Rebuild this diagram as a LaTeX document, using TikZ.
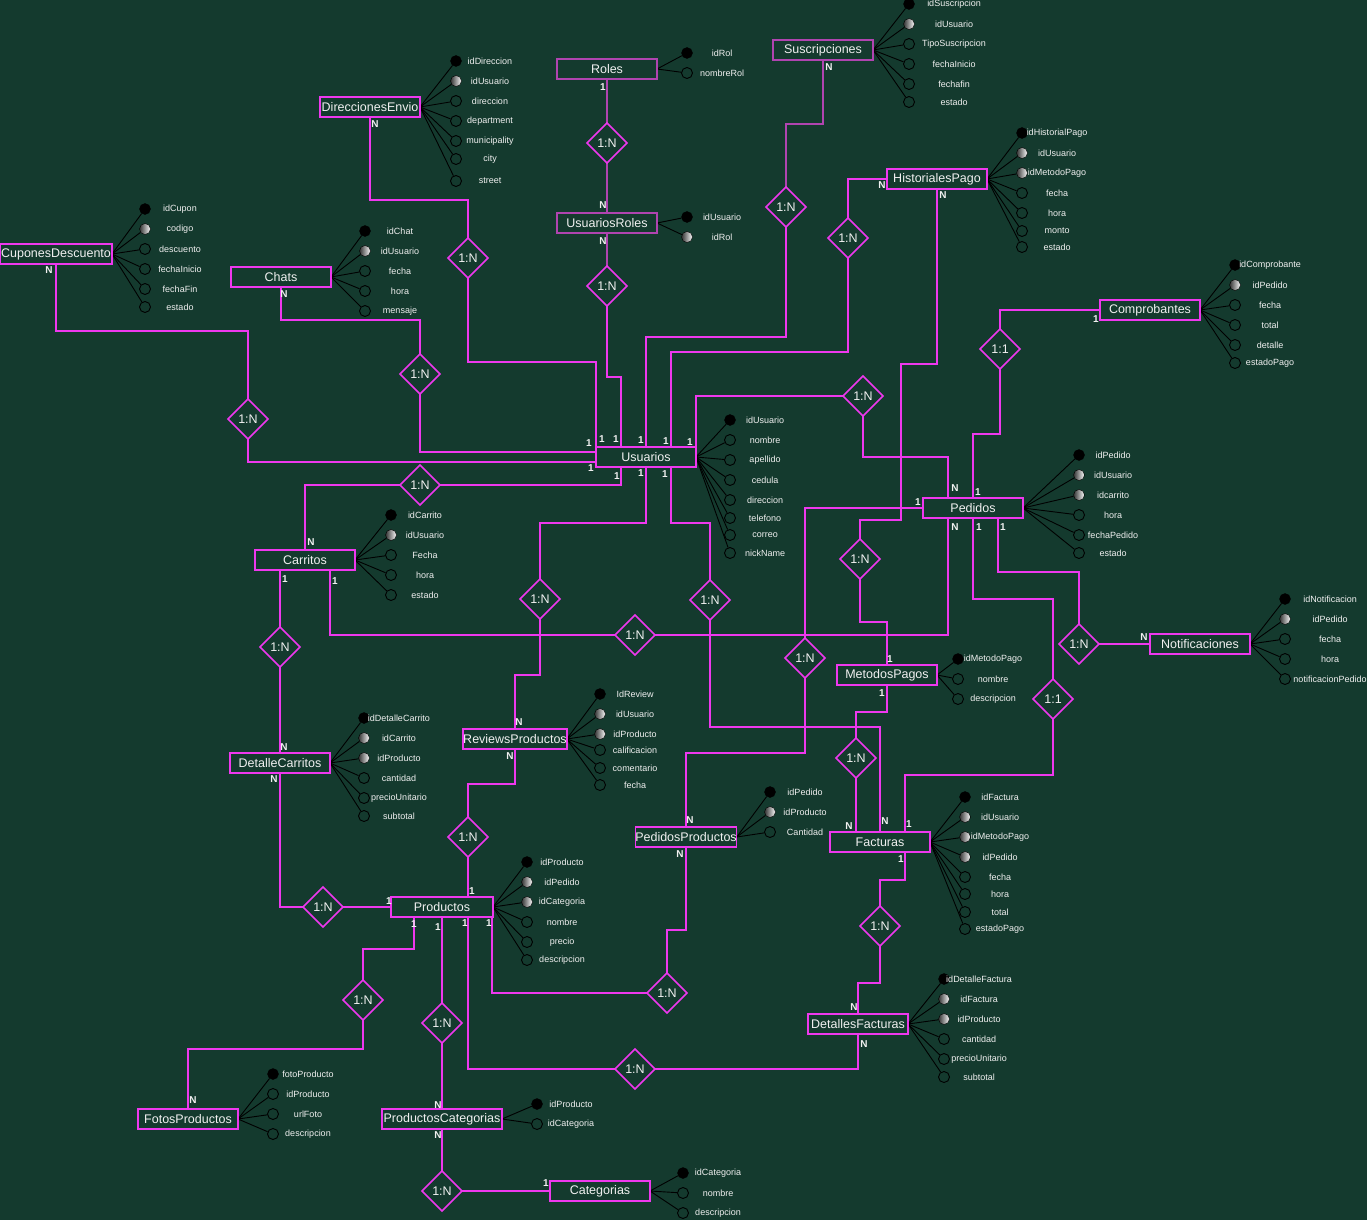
\documentclass[tikz,border=0pt]{standalone}
\usepackage{fontspec}
\setmainfont{Liberation Sans}
\usetikzlibrary{shapes.geometric}
\definecolor{bgc}{HTML}{143A2E}
\definecolor{magl}{HTML}{EE38EE}
\definecolor{magd}{HTML}{B044B0}
\definecolor{txt}{HTML}{F0F0F0}
\pgfdeclarelayer{back}
\pgfdeclarelayer{lines}
\pgfsetlayers{back,lines,main}
\tikzset{
 entity/.style={draw=magl, line width=1.5pt, fill=bgc, text=txt, minimum width=100pt, minimum height=20pt, inner sep=0pt, outer sep=0pt, font=\fontsize{12.5}{14}\selectfont},
 entityd/.style={entity, draw=magd},
 relbox/.style={diamond, draw=magl, line width=1.5pt, fill=bgc, text=txt, minimum width=40pt, minimum height=40pt, inner sep=0pt, outer sep=0pt, font=\fontsize{12.5}{14}\selectfont},
 conn/.style={draw=magl, line width=1.5pt},
 connd/.style={draw=magd, line width=1.7pt},
 attrline/.style={draw=black, line width=0.9pt},
 attrk/.style={circle, draw=black, fill=black, minimum size=11pt, inner sep=0pt},
 attrf/.style={circle, draw=black, left color=black!80, right color=white, minimum size=11pt, inner sep=0pt},
 attro/.style={circle, draw=black, line width=0.9pt, fill=bgc, minimum size=11pt, inner sep=0pt},
 attrtext/.style={text=txt, font=\fontsize{9}{10}\selectfont, inner sep=0pt},
 card/.style={text=txt, font=\bfseries\fontsize{10}{11}\selectfont, inner sep=0pt},
}
\newcommand\attrset[4]{%
 \foreach \aposy/\atyp/\alab [count=\aidx] in {#4}{%
  \edef\attrcmd{\noexpand\node[attr\atyp] (#1-a\aidx) at (#2,\aposy) {};}%
  \attrcmd
  \node[attrtext] (#1-t\aidx) at (#3,\aposy) {\alab};
  \begin{pgfonlayer}{lines}\draw[attrline] (#1.east) -- (#1-a\aidx);\end{pgfonlayer}
 }}
\begin{document}
\begin{tikzpicture}[x=1pt,y=-1pt]
\useasboundingbox (0,0) rectangle (1367,1220);
\begin{pgfonlayer}{back}\fill[bgc] (0,0) rectangle (1367,1220);\end{pgfonlayer}

% entities
\node[entity, minimum width=112pt] (CuponesDescuento) at (56,254) {CuponesDescuento};
\node[entity] (Chats) at (281,277) {Chats};
\node[entity] (DireccionesEnvio) at (370,107) {DireccionesEnvio};
\node[entityd] (Roles) at (607,69) {Roles};
\node[entityd] (UsuariosRoles) at (607,223) {UsuariosRoles};
\node[entityd] (Suscripciones) at (823,50) {Suscripciones};
\node[entity] (HistorialesPago) at (937,179) {HistorialesPago};
\node[entity] (Comprobantes) at (1150,310) {Comprobantes};
\node[entity] (Usuarios) at (646,457) {Usuarios};
\node[entity] (Pedidos) at (973,508) {Pedidos};
\node[entity] (Carritos) at (305,560) {Carritos};
\node[entity] (Notificaciones) at (1200,644) {Notificaciones};
\node[entity] (MetodosPagos) at (887,675) {MetodosPagos};
\node[entity] (ReviewsProductos) at (515,739) {ReviewsProductos};
\node[entity] (DetalleCarritos) at (280,763) {DetalleCarritos};
\node[entity] (PedidosProductos) at (686,837) {PedidosProductos};
\node[entity] (Facturas) at (880,842) {Facturas};
\node[entity, minimum width=102pt] (Productos) at (442,907) {Productos};
\node[entity] (DetallesFacturas) at (858,1024) {DetallesFacturas};
\node[entity] (FotosProductos) at (188,1119) {FotosProductos};
\node[entity, minimum width=120pt] (ProductosCategorias) at (442,1119) {ProductosCategorias};
\node[entity] (Categorias) at (600,1191) {Categorias};

% relationships
\node[relbox] (d1) at (607,143) {1:N};
\node[relbox] (d2) at (607,286) {1:N};
\node[relbox] (d3) at (468,258) {1:N};
\node[relbox] (d4) at (420,374) {1:N};
\node[relbox] (d5) at (248,419) {1:N};
\node[relbox] (d6) at (786,207) {1:N};
\node[relbox] (d7) at (848,238) {1:N};
\node[relbox] (d8) at (1000,349) {1:1};
\node[relbox] (d9) at (863,396) {1:N};
\node[relbox] (d10) at (420,485) {1:N};
\node[relbox] (d11) at (540,599) {1:N};
\node[relbox] (d12) at (710,600) {1:N};
\node[relbox] (d13) at (635,635) {1:N};
\node[relbox] (d14) at (860,559) {1:N};
\node[relbox] (d15) at (280,647) {1:N};
\node[relbox] (d16) at (805,658) {1:N};
\node[relbox] (d17) at (1079,644) {1:N};
\node[relbox] (d18) at (1053,699) {1:1};
\node[relbox] (d19) at (856,758) {1:N};
\node[relbox] (d20) at (468,837) {1:N};
\node[relbox] (d21) at (323,907) {1:N};
\node[relbox] (d22) at (880,926) {1:N};
\node[relbox] (d23) at (667,993) {1:N};
\node[relbox] (d24) at (363,1000) {1:N};
\node[relbox] (d25) at (442,1023) {1:N};
\node[relbox] (d26) at (635,1069) {1:N};
\node[relbox] (d27) at (442,1191) {1:N};

% attributes
\attrset{CuponesDescuento}{145}{180}{209/k/idCupon,229/f/codigo,249/o/descuento,269/o/fechaInicio,289/o/fechaFin,307/o/estado}
\attrset{Chats}{365}{400}{231/k/idChat,251/f/idUsuario,271/o/fecha,291/o/hora,311/o/mensaje}
\attrset{DireccionesEnvio}{456}{490}{61/k/idDireccion,81/f/idUsuario,101/o/direccion,121/o/department,141/o/municipality,159/o/city,181/o/street}
\attrset{Roles}{687}{722}{53/k/idRol,73/o/nombreRol}
\attrset{UsuariosRoles}{687}{722}{217/k/idUsuario,237/f/idRol}
\attrset{Suscripciones}{909}{954}{4/k/idSuscripcion,24/f/idUsuario,44/o/TipoSuscripcion,64/o/fechaInicio,84/o/fechafin,102/o/estado}
\attrset{HistorialesPago}{1022}{1057}{133/k/idHistorialPago,153/f/idUsuario,173/f/idMetodoPago,193/o/fecha,213/o/hora,231/o/monto,247/o/estado}
\attrset{Comprobantes}{1235}{1270}{265/k/idComprobante,285/f/idPedido,305/o/fecha,325/o/total,345/o/detalle,363/o/estadoPago}
\attrset{Usuarios}{730}{765}{420/k/idUsuario,440/o/nombre,460/o/apellido,480/o/cedula,500/o/direccion,518/o/telefono,535/o/correo,553/o/nickName}
\attrset{Pedidos}{1079}{1113}{455/k/idPedido,475/f/idUsuario,495/f/idcarrito,515/o/hora,535/o/fechaPedido,553/o/estado}
\attrset{Carritos}{391}{425}{515/k/idCarrito,535/f/idUsuario,555/o/Fecha,575/o/hora,595/o/estado}
\attrset{Notificaciones}{1285}{1330}{599/k/idNotificacion,619/f/idPedido,639/o/fecha,659/o/hora,679/o/notificacionPedido}
\attrset{MetodosPagos}{958}{993}{659/k/idMetodoPago,679/o/nombre,699/o/descripcion}
\attrset{ReviewsProductos}{600}{635}{694/k/IdReview,714/f/idUsuario,734/f/idProducto,750/o/calificacion,768/o/comentario,785/o/fecha}
\attrset{DetalleCarritos}{364}{399}{718/k/idDetalleCarrito,738/f/idCarrito,758/f/idProducto,778/o/cantidad,798/o/precioUnitario,816/o/subtotal}
\attrset{PedidosProductos}{770}{805}{792/k/idPedido,812/f/idProducto,832/o/Cantidad}
\attrset{Facturas}{965}{1000}{797/k/idFactura,817/f/idUsuario,837/f/idMetodoPago,857/f/idPedido,877/o/fecha,894/o/hora,912/o/total,929/o/estadoPago}
\attrset{Productos}{527}{562}{862/k/idProducto,882/f/idPedido,902/f/idCategoria,922/o/nombre,942/o/precio,960/o/descripcion}
\attrset{DetallesFacturas}{944}{979}{979/k/idDetalleFactura,999/f/idFactura,1019/f/idProducto,1039/o/cantidad,1059/o/precioUnitario,1077/o/subtotal}
\attrset{FotosProductos}{273}{308}{1074/k/fotoProducto,1094/o/idProducto,1114/o/urlFoto,1134/o/descripcion}
\attrset{ProductosCategorias}{537}{571}{1104/k/idProducto,1124/o/idCategoria}
\attrset{Categorias}{683}{718}{1173/k/idCategoria,1193/o/nombre,1213/o/descripcion}

% connectors
\begin{pgfonlayer}{lines}
\draw[connd] (Roles.south) -- (d1.north);
\draw[connd] (d1.south) -- (UsuariosRoles.north);
\draw[connd] (UsuariosRoles.south) -- (d2.north);
\draw[conn] (d2.south) -- ++(0,71) -| ([xshift=-25pt]Usuarios.north);
\draw[conn] (DireccionesEnvio.south) -- ++(0,83) -| (d3.north);
\draw[conn] (d3.south) -- ++(0,84) -| (Usuarios.north west);
\draw[conn] (Chats.south) -- ++(0,33) -| (d4.north);
\draw[conn] (d4.south) |- ([yshift=5pt]Usuarios.west);
\draw[conn] (CuponesDescuento.south) -- ++(0,67) -| (d5.north);
\draw[conn] (d5.south) |- ([yshift=-5pt]Usuarios.west);
\draw[connd] (Suscripciones.south) -- ++(0,64) -| (d6.north);
\draw[conn] (d6.south) -- ++(0,110) -| (Usuarios.north);
\draw[conn] (HistorialesPago.west) -| (d7.north);
\draw[conn] (d7.south) -- ++(0,94) -| ([xshift=25pt]Usuarios.north);
\draw[conn] (Usuarios.north east) |- (d9.west);
\draw[conn] (d9.south) -- ++(0,41) -| ([xshift=-25pt]Pedidos.north);
\draw[conn] (Comprobantes.west) -| (d8.north);
\draw[conn] (d8.south) -- ++(0,65) -| (Pedidos.north);
\draw[conn] (HistorialesPago.south) -- ++(0,175) -- ++(-36,0) -- ++(0,156) -| (d14.north);
\draw[conn] (d14.south) -- ++(0,43) -| (MetodosPagos.north);
\draw[conn] (Carritos.north) |- (d10.west);
\draw[conn] (d10.east) -| ([xshift=-25pt]Usuarios.south);
\draw[conn] (Usuarios.south) -- ++(0,56) -| (d11.north);
\draw[conn] (d11.south) -- ++(0,56) -| (ReviewsProductos.north);
\draw[conn] ([xshift=25pt]Usuarios.south) -- ++(0,56) -| (d12.north);
\draw[conn] (d12.south) -- ++(0,107) -| (Facturas.north);
\draw[conn] ([xshift=-25pt]Pedidos.south) |- (d13.east);
\draw[conn] (d13.west) -| ([xshift=25pt]Carritos.south);
\draw[conn] ([xshift=-25pt]Carritos.south) -- (d15.north);
\draw[conn] (d15.south) -- (DetalleCarritos.north);
\draw[conn] (DetalleCarritos.south) |- (d21.west);
\draw[conn] (d21.east) -- (Productos.west);
\draw[conn] (ReviewsProductos.south) -- ++(0,35) -| (d20.north);
\draw[conn] (d20.south) -- ([xshift=26pt]Productos.north);
\draw[conn] (d16.north) |- (Pedidos.west);
\draw[conn] (d16.south) -- ++(0,75) -| (PedidosProductos.north);
\draw[conn] ([xshift=25pt]Pedidos.south) -- ++(0,54) -| (d17.north);
\draw[conn] (d17.east) -- (Notificaciones.west);
\draw[conn] (Pedidos.south) -- ++(0,81) -| (d18.north);
\draw[conn] (d18.south) -- ++(0,56) -| ([xshift=25pt]Facturas.north);
\draw[conn] (MetodosPagos.south) -- ++(0,27) -| (d19.north);
\draw[conn] (d19.south) -- ([xshift=-24pt]Facturas.north);
\draw[conn] ([xshift=25pt]Facturas.south) -- ++(0,28) -| (d22.north);
\draw[conn] (d22.south) -- ++(0,37) -| (DetallesFacturas.north);
\draw[conn] (DetallesFacturas.south) |- (d26.east);
\draw[conn] (d26.west) -| ([xshift=26pt]Productos.south);
\draw[conn] ([xshift=50pt]Productos.south) |- (d23.west);
\draw[conn] (d23.north) -- ++(0,-43) -| (PedidosProductos.south);
\draw[conn] ([xshift=-28pt]Productos.south) -- ++(0,32) -| (d24.north);
\draw[conn] (d24.south) -- ++(0,29) -| (FotosProductos.north);
\draw[conn] (Productos.south) -- (d25.north);
\draw[conn] (d25.south) -- (ProductosCategorias.north);
\draw[conn] (ProductosCategorias.south) -- (d27.north);
\draw[conn] (d27.east) -- (Categorias.west);
\end{pgfonlayer}

% cardinalities
\node[card] (c1) at (603,87) {1};
\node[card] (c2) at (603,205) {N};
\node[card] (c3) at (603,241) {N};
\node[card] (c4) at (829,67) {N};
\node[card] (c5) at (375,124) {N};
\node[card] (c6) at (49,270) {N};
\node[card] (c7) at (284,294) {N};
\node[card] (c8) at (882,185) {N};
\node[card] (c9) at (943,195) {N};
\node[card] (c10) at (1096,319) {1};
\node[card] (c11) at (589,443) {1};
\node[card] (c12) at (602,439) {1};
\node[card] (c13) at (616,439) {1};
\node[card] (c14) at (641,440) {1};
\node[card] (c15) at (666,441) {1};
\node[card] (c16) at (690,442) {1};
\node[card] (c17) at (591,468) {1};
\node[card] (c18) at (617,476) {1};
\node[card] (c19) at (641,473) {1};
\node[card] (c20) at (665,474) {1};
\node[card] (c21) at (955,488) {N};
\node[card] (c22) at (978,492) {1};
\node[card] (c23) at (918,502) {1};
\node[card] (c24) at (955,527) {N};
\node[card] (c25) at (979,527) {1};
\node[card] (c26) at (1003,527) {1};
\node[card] (c27) at (311,542) {N};
\node[card] (c28) at (285,579) {1};
\node[card] (c29) at (335,581) {1};
\node[card] (c30) at (1144,637) {N};
\node[card] (c31) at (890,659) {1};
\node[card] (c32) at (882,693) {1};
\node[card] (c33) at (519,722) {N};
\node[card] (c34) at (510,756) {N};
\node[card] (c35) at (284,747) {N};
\node[card] (c36) at (274,779) {N};
\node[card] (c37) at (690,820) {N};
\node[card] (c38) at (680,854) {N};
\node[card] (c39) at (849,826) {N};
\node[card] (c40) at (885,821) {N};
\node[card] (c41) at (909,824) {1};
\node[card] (c42) at (901,859) {1};
\node[card] (c43) at (389,901) {1};
\node[card] (c44) at (472,891) {1};
\node[card] (c45) at (414,924) {1};
\node[card] (c46) at (438,927) {1};
\node[card] (c47) at (465,923) {1};
\node[card] (c48) at (489,923) {1};
\node[card] (c49) at (854,1007) {N};
\node[card] (c50) at (864,1044) {N};
\node[card] (c51) at (193,1100) {N};
\node[card] (c52) at (438,1105) {N};
\node[card] (c53) at (438,1135) {N};
\node[card] (c54) at (546,1183) {1};
\end{tikzpicture}
\end{document}
